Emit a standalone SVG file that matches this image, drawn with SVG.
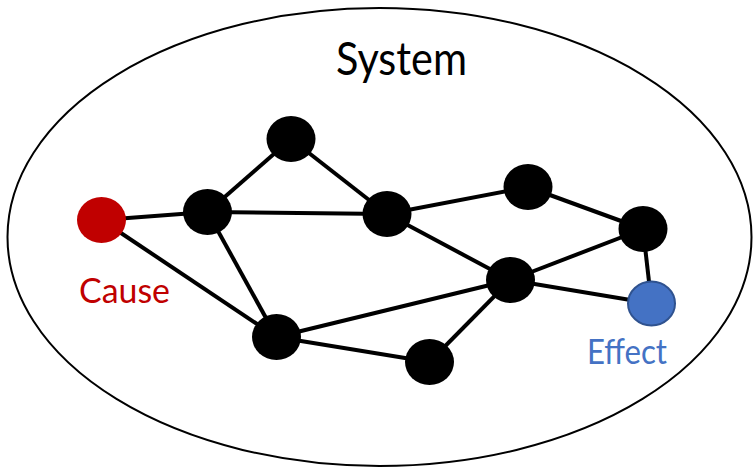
<svg xmlns="http://www.w3.org/2000/svg" width="756" height="468" viewBox="0 0 756 468">
  <style>
    .edge { stroke: #000; stroke-width: 4; fill: none; }
    .node { fill: #000; }
    .label { font-family: "Lato", "Open Sans", "Liberation Sans", sans-serif; }
  </style>
  <rect width="756" height="468" fill="#fff"/>
  <!-- system boundary -->
  <g id="system">
    <ellipse cx="379.5" cy="237" rx="372" ry="229" fill="none" stroke="#000" stroke-width="2"/>
    <text class="label" x="401.5" y="75" font-size="47" text-anchor="middle" fill="#000" textLength="131" lengthAdjust="spacingAndGlyphs">System</text>
  </g>
  <!-- connectors -->
  <g id="edges">
    <line class="edge" x1="101.5" y1="220" x2="207.5" y2="212"/>
    <line class="edge" x1="101.5" y1="220" x2="276.5" y2="337"/>
    <line class="edge" x1="207.5" y1="212" x2="291" y2="139"/>
    <line class="edge" x1="207.5" y1="212" x2="387" y2="214"/>
    <line class="edge" x1="207.5" y1="212" x2="276.5" y2="337"/>
    <line class="edge" x1="291" y1="139" x2="387" y2="214"/>
    <line class="edge" x1="387" y1="214" x2="528" y2="187"/>
    <line class="edge" x1="387" y1="214" x2="510.5" y2="280"/>
    <line class="edge" x1="528" y1="187" x2="643" y2="229"/>
    <line class="edge" x1="643" y1="229" x2="510.5" y2="280"/>
    <line class="edge" x1="643" y1="229" x2="651.5" y2="303.5"/>
    <line class="edge" x1="510.5" y1="280" x2="651.5" y2="303.5"/>
    <line class="edge" x1="510.5" y1="280" x2="276.5" y2="337"/>
    <line class="edge" x1="510.5" y1="280" x2="429.5" y2="362"/>
    <line class="edge" x1="276.5" y1="337" x2="429.5" y2="362"/>
  </g>
  <!-- nodes -->
  <g id="cause">
    <ellipse cx="101.5" cy="220" rx="24.5" ry="23" fill="#C00000"/>
    <text class="label" x="79" y="303" font-size="35" fill="#C00000" textLength="91" lengthAdjust="spacingAndGlyphs">Cause</text>
  </g>
  <g id="n1"><ellipse class="node" cx="207.5" cy="212" rx="24.5" ry="23"/></g>
  <g id="n2"><ellipse class="node" cx="291" cy="139" rx="24.5" ry="23"/></g>
  <g id="n3"><ellipse class="node" cx="387" cy="214" rx="24.5" ry="23"/></g>
  <g id="n4"><ellipse class="node" cx="528" cy="187" rx="24.5" ry="23"/></g>
  <g id="n5"><ellipse class="node" cx="643" cy="229" rx="24.5" ry="23"/></g>
  <g id="n6"><ellipse class="node" cx="510.5" cy="280" rx="24.5" ry="23"/></g>
  <g id="n7"><ellipse class="node" cx="276.5" cy="337" rx="24.5" ry="23"/></g>
  <g id="n8"><ellipse class="node" cx="429.5" cy="362" rx="24.5" ry="23"/></g>
  <g id="effect">
    <ellipse cx="651.5" cy="303.5" rx="23.5" ry="22" fill="#4472C4" stroke="#2F528F" stroke-width="2"/>
    <text class="label" x="587" y="364" font-size="35" fill="#4472C4" textLength="80" lengthAdjust="spacingAndGlyphs">Effect</text>
  </g>
</svg>
